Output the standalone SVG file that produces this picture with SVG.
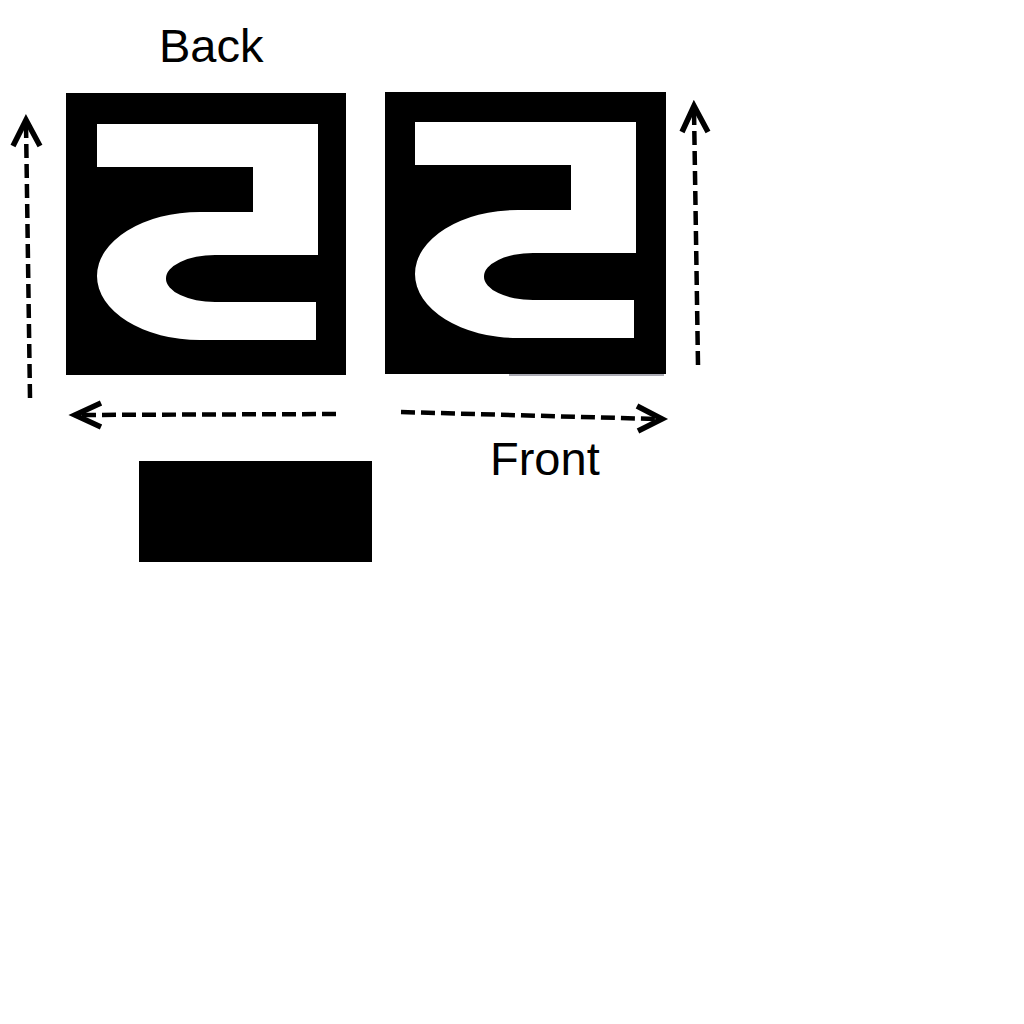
<svg xmlns="http://www.w3.org/2000/svg" xmlns:xlink="http://www.w3.org/1999/xlink" width="1024" height="1024" viewBox="0 0 1024 1024">
<style>
.lbl{font-family:"Liberation Sans",Arial,sans-serif;font-size:47px;fill:#000}
.blk{fill:#000}
.dash{fill:none;stroke:#000;stroke-width:4.5;stroke-dasharray:14 6}
.head{fill:none;stroke:#000;stroke-width:5.5;stroke-linecap:butt;stroke-linejoin:miter}
</style>
<defs>
<path id="five" fill="#fff" fill-rule="evenodd" d="M97,124 H318 V255 H215 A48,23 0 0 0 215,302 H316 V340 H200 A103,64 0 0 1 200,212 H253 V167 H97 Z"/>
</defs>
<rect width="1024" height="1024" fill="#fff"/>
<g id="label-back"><text class="lbl" x="159" y="62">Back</text></g>
<g id="label-front"><text class="lbl" x="490" y="475">Front</text></g>
<g id="back-tile">
<rect class="blk" x="66" y="93" width="280" height="282"/>
<use xlink:href="#five"/>
</g>
<g id="front-tile">
<rect class="blk" x="385" y="92" width="281" height="282"/>
<use xlink:href="#five" transform="translate(318,-2)"/>
<line x1="509" y1="375" x2="664" y2="375" stroke="#556" stroke-width="1"/>
</g>
<g id="black-bar"><rect class="blk" x="139" y="461" width="233" height="101"/></g>
<g id="connectors">
<line class="dash" x1="30" y1="398" x2="26" y2="124"/>
<polyline class="head" points="13,146 26,120 40,146"/>
<line class="dash" x1="698" y1="365" x2="694" y2="110"/>
<polyline class="head" points="682,132 694,106 708,132"/>
<line class="dash" x1="336" y1="414" x2="80" y2="415"/>
<polyline class="head" points="101,403 75,415 101,427"/>
<line class="dash" x1="401" y1="412" x2="656" y2="419"/>
<polyline class="head" points="637,406 662,419 638,431"/>
</g>
</svg>
